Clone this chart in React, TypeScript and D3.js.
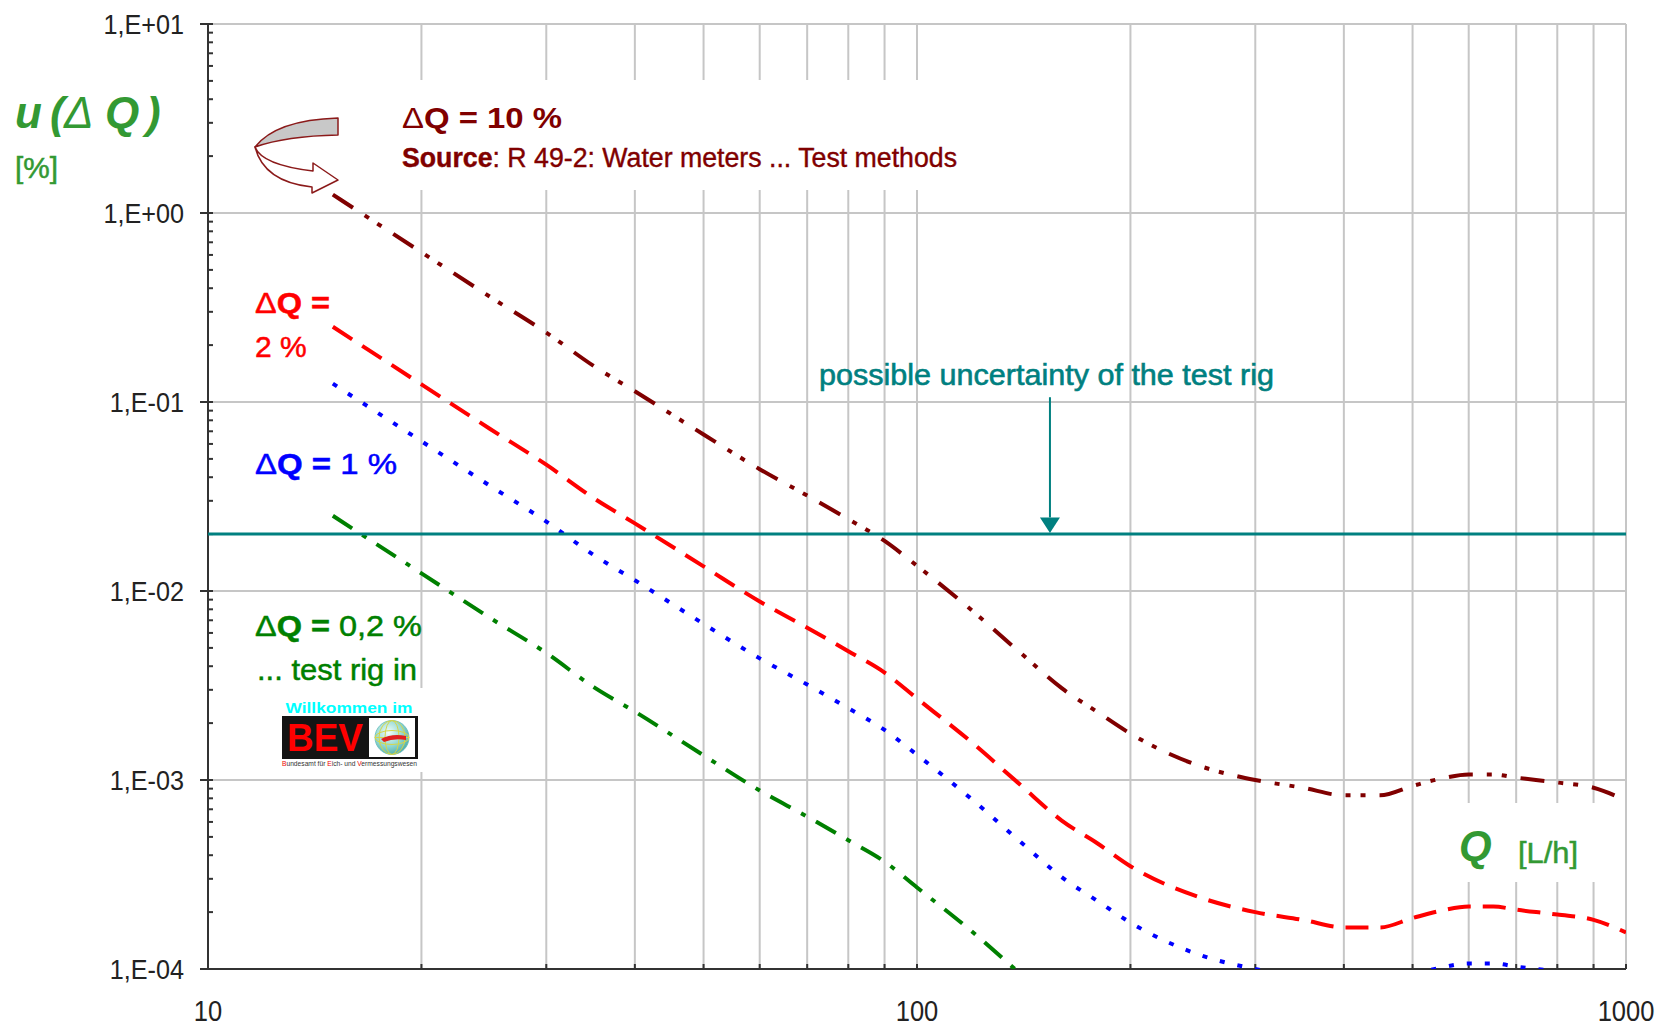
import React, { useEffect, useRef } from "react";
import { select, scaleLog, line, curveMonotoneX } from "d3";

// flow rate Q [L/h] and u(ΔQ) [%]
const flowRates = [
  15, 20, 25, 30, 35, 40, 50, 60, 70, 80, 90, 100, 120, 140, 160, 180, 200,
  250, 300, 350, 400, 450, 500, 550, 600, 650, 700, 800, 900, 1000,
];
const u10 = [
  1.25, 0.62, 0.36, 0.233, 0.155, 0.114, 0.0673, 0.0441, 0.032, 0.024, 0.0184,
  0.0136, 0.0078, 0.0047, 0.00306, 0.00228, 0.00176, 0.00119, 0.001, 0.00091,
  0.00083, 0.00083, 0.00093, 0.00102, 0.00107, 0.00107, 0.00103, 0.00097,
  0.00091, 0.00078,
];
const u2 = [
  0.25, 0.124, 0.072, 0.0466, 0.031, 0.0228, 0.0135, 0.0088, 0.0064, 0.0048,
  0.0037, 0.0027, 0.00156, 0.00094, 0.00061, 0.00046, 0.00035, 0.00024, 0.0002,
  0.000182, 0.000166, 0.000166, 0.000186, 0.000204, 0.000214, 0.000214,
  0.000206, 0.000194, 0.000182, 0.000156,
];
const u1 = [
  0.125, 0.062, 0.036, 0.0233, 0.0155, 0.0114, 0.0067, 0.0044, 0.0032, 0.0024,
  0.00184, 0.00136, 0.00078, 0.00047, 0.000306, 0.000228, 0.000176, 0.000119,
  0.0001, 0.000091, 0.000083, 0.000083, 0.000093, 0.000102, 0.000107, 0.000107,
  0.000103, 0.000097, 0.000091, 0.000078,
];
const u02 = [
  0.025, 0.0124, 0.0072, 0.0047, 0.0031, 0.0023, 0.00135, 0.00088, 0.00064,
  0.00048, 0.00037, 0.00027, 0.000156, 0.000094, 0.000061,
];
const xTickLabels = [10, 100, 1000];
const rigLimit = 0.02;
const arrowQ = 154;
const arrowTop = 0.106;
const arrowHeadTop = 0.0245;

const W = 1668;
const H = 1033;
const margin = { top: 24, right: 42, bottom: 64, left: 208 };
const font = '"Liberation Sans", Arial, sans-serif';
const axisGreen = "#339933";

const xScale = scaleLog()
  .domain([10, 1000])
  .range([margin.left, W - margin.right]);
const yScale = scaleLog()
  .domain([1e-4, 10])
  .range([H - margin.bottom, margin.top]);

const series = [
  { key: "u10", values: u10, color: "#800000", dash: "24 14 5 10 5 14" },
  { key: "u2", values: u2, color: "#ff0000", dash: "23 12" },
  { key: "u1", values: u1, color: "#0000ff", dash: "5 13" },
  { key: "u02", values: u02, color: "#008000", dash: "23 12 5 12" },
];

const isDecade = (v) =>
  Math.abs(Math.log10(v) - Math.round(Math.log10(v))) < 1e-6;

const expLabel = (v) => {
  const e = Math.round(Math.log10(v));
  return `1,E${e >= 0 ? "+" : "-"}${String(Math.abs(e)).padStart(2, "0")}`;
};

export default function App() {
  const gridRef = useRef(null);
  const plotRef = useRef(null);

  const left = margin.left;
  const right = W - margin.right;
  const top = margin.top;
  const bottom = H - margin.bottom;

  useEffect(() => {
    const grid = select(gridRef.current);
    grid.selectAll("*").remove();

    // vertical grid at every log tick, horizontal only at decades
    grid
      .selectAll("line.gx")
      .data(xScale.ticks().filter((d) => d > 10))
      .enter()
      .append("line")
      .attr("x1", (d) => xScale(d))
      .attr("x2", (d) => xScale(d))
      .attr("y1", top)
      .attr("y2", bottom)
      .attr("stroke", "#c6c6c6")
      .attr("stroke-width", 2);

    grid
      .selectAll("line.gy")
      .data(yScale.ticks().filter((d) => isDecade(d) && d > 1e-4))
      .enter()
      .append("line")
      .attr("x1", left)
      .attr("x2", right)
      .attr("y1", (d) => yScale(d))
      .attr("y2", (d) => yScale(d))
      .attr("stroke", "#c6c6c6")
      .attr("stroke-width", 2);

    const plot = select(plotRef.current);
    plot.selectAll("*").remove();

    // axes
    plot
      .append("line")
      .attr("x1", left)
      .attr("x2", left)
      .attr("y1", top)
      .attr("y2", bottom)
      .attr("stroke", "#333")
      .attr("stroke-width", 2);
    plot
      .append("line")
      .attr("x1", left - 8)
      .attr("x2", right)
      .attr("y1", bottom)
      .attr("y2", bottom)
      .attr("stroke", "#333")
      .attr("stroke-width", 2);

    plot
      .selectAll("line.ty")
      .data(yScale.ticks())
      .enter()
      .append("line")
      .attr("x1", (d) => (isDecade(d) ? left - 8 : left))
      .attr("x2", left + 5)
      .attr("y1", (d) => yScale(d))
      .attr("y2", (d) => yScale(d))
      .attr("stroke", "#333")
      .attr("stroke-width", 2);

    plot
      .selectAll("line.tx")
      .data(xScale.ticks().filter((d) => d > 10))
      .enter()
      .append("line")
      .attr("x1", (d) => xScale(d))
      .attr("x2", (d) => xScale(d))
      .attr("y1", bottom)
      .attr("y2", bottom - 5)
      .attr("stroke", "#333")
      .attr("stroke-width", 2);

    plot
      .selectAll("text.ylab")
      .data(yScale.ticks().filter(isDecade))
      .enter()
      .append("text")
      .attr("transform", (d) => `translate(184,${yScale(d) + 10}) scale(0.9,1)`)
      .attr("text-anchor", "end")
      .attr("font-family", font)
      .attr("font-size", 28)
      .attr("fill", "#222")
      .text(expLabel);

    plot
      .selectAll("text.xlab")
      .data(xTickLabels)
      .enter()
      .append("text")
      .attr("transform", (d) => `translate(${xScale(d)},1021) scale(0.85,1)`)
      .attr("text-anchor", "middle")
      .attr("font-family", font)
      .attr("font-size", 30)
      .attr("fill", "#222")
      .text((d) => d);

    // curves
    const curve = line()
      .x((d) => xScale(d[0]))
      .y((d) => yScale(d[1]))
      .curve(curveMonotoneX);

    const lines = plot.append("g").attr("clip-path", "url(#plotClip)");
    series.forEach((s) => {
      const pts = s.values.map((v, i) => [flowRates[i], v]);
      lines
        .append("path")
        .attr("d", curve(pts))
        .attr("fill", "none")
        .attr("stroke", s.color)
        .attr("stroke-width", 4)
        .attr("stroke-dasharray", s.dash);
    });

    // test rig uncertainty
    plot
      .append("line")
      .attr("x1", left)
      .attr("x2", right)
      .attr("y1", yScale(rigLimit))
      .attr("y2", yScale(rigLimit))
      .attr("stroke", "#008080")
      .attr("stroke-width", 3);

    const ax = xScale(arrowQ);
    plot
      .append("line")
      .attr("x1", ax)
      .attr("x2", ax)
      .attr("y1", yScale(arrowTop))
      .attr("y2", yScale(arrowHeadTop))
      .attr("stroke", "#008080")
      .attr("stroke-width", 2);
    plot
      .append("path")
      .attr(
        "d",
        `M${ax - 10},${yScale(arrowHeadTop)} L${ax + 10},${yScale(
          arrowHeadTop
        )} L${ax},${yScale(rigLimit) - 1} Z`
      )
      .attr("fill", "#008080");
  }, []);

  return (
    <svg
      width={W}
      height={H}
      style={{
        position: "absolute",
        left: 0,
        top: 0,
        background: "white",
        fontFamily: font,
      }}
    >
      <defs>
        <clipPath id="plotClip">
          <rect x={left} y={top} width={right - left} height={bottom - top} />
        </clipPath>
        <radialGradient id="globe" cx="40%" cy="35%" r="70%">
          <stop offset="0%" stopColor="#f2fffb" />
          <stop offset="60%" stopColor="#8fd6cf" />
          <stop offset="100%" stopColor="#4aa9a6" />
        </radialGradient>
      </defs>
      <rect x={0} y={0} width={W} height={H} fill="white" />
      <g ref={gridRef} />

      {/* white panels behind the annotations */}
      <rect x={395} y={80} width={570} height={110} fill="white" />
      <rect x={1440} y={803} width={160} height={79} fill="white" />
      <rect x={262} y={688} width={166} height={84} fill="white" />

      <g ref={plotRef} />

      {/* y axis title */}
      <g fill={axisGreen}>
        <text x={15} y={128} fontSize={44} fontWeight="bold" fontStyle="italic">
          u
        </text>
        <text x={50} y={128} fontSize={44} fontWeight="bold" fontStyle="italic">
          (
        </text>
        <text x={64} y={128} fontSize={44} fontStyle="italic">
          Δ
        </text>
        <text x={105} y={128} fontSize={44} fontWeight="bold" fontStyle="italic">
          Q
        </text>
        <text x={146} y={128} fontSize={44} fontWeight="bold" fontStyle="italic">
          )
        </text>
        <text
          x={15}
          y={178}
          fontSize={30}
          textLength={43}
          lengthAdjust="spacingAndGlyphs"
          stroke={axisGreen}
          strokeWidth={0.5}
        >
          [%]
        </text>
      </g>

      {/* x axis title */}
      <g fill={axisGreen}>
        <text x={1459} y={860} fontSize={42} fontWeight="bold" fontStyle="italic">
          Q
        </text>
        <text
          x={1518}
          y={863}
          fontSize={30}
          textLength={60}
          lengthAdjust="spacingAndGlyphs"
          stroke={axisGreen}
          strokeWidth={0.5}
        >
          [L/h]
        </text>
      </g>

      {/* curved pointer */}
      <g stroke="#8b1a1a" strokeWidth={1.5} strokeLinejoin="round">
        <path d="M338,118 Q276,120 255,147 Q286,136 338,135 Z" fill="#c8c8c8" />
        <path
          d="M255,147 Q262,165 313,171 L313,163 L338,180 L312,193 L312,187 Q264,182 255,147 Z"
          fill="white"
        />
      </g>

      {/* 10 % label */}
      <g fill="#800000">
        <text x={402} y={128} fontSize={30} textLength={160} lengthAdjust="spacingAndGlyphs">
          <tspan>Δ</tspan>
          <tspan fontWeight="bold">Q = 10 %</tspan>
        </text>
        <text
          x={402}
          y={167}
          fontSize={27}
          textLength={555}
          lengthAdjust="spacingAndGlyphs"
          stroke="#800000"
          strokeWidth={0.4}
        >
          <tspan fontWeight="bold">Source</tspan>: R 49-2: Water meters ... Test methods
        </text>
      </g>

      <g fill="#ff0000" fontSize={30} stroke="#ff0000" strokeWidth={0.5}>
        <text x={255} y={313} textLength={75} lengthAdjust="spacingAndGlyphs">
          <tspan>Δ</tspan>
          <tspan fontWeight="bold">Q =</tspan>
        </text>
        <text x={255} y={357}>2 %</text>
      </g>

      <g fill="#0000ff" fontSize={30} stroke="#0000ff" strokeWidth={0.5}>
        <text x={255} y={474} textLength={142} lengthAdjust="spacingAndGlyphs">
          <tspan>Δ</tspan>
          <tspan fontWeight="bold">Q =</tspan>
          <tspan> 1 %</tspan>
        </text>
      </g>

      <g fill="#008000" fontSize={30} stroke="#008000" strokeWidth={0.5}>
        <text x={255} y={636} textLength={167} lengthAdjust="spacingAndGlyphs">
          <tspan>Δ</tspan>
          <tspan fontWeight="bold">Q =</tspan>
          <tspan> 0,2 %</tspan>
        </text>
        <text x={257} y={680} textLength={160} lengthAdjust="spacingAndGlyphs">
          ... test rig in
        </text>
      </g>

      {/* BEV logo */}
      <g>
        <text
          x={349}
          y={713}
          textAnchor="middle"
          fontSize={15}
          fontWeight="bold"
          fill="#00ffff"
          textLength={127}
          lengthAdjust="spacingAndGlyphs"
        >
          Willkommen im
        </text>
        <rect x={282} y={716} width={136} height={43} fill="#141414" />
        <text
          x={287}
          y={751}
          fontSize={38}
          fontWeight="bold"
          fill="#ff0000"
          textLength={76}
          lengthAdjust="spacingAndGlyphs"
        >
          BEV
        </text>
        <rect x={369} y={718} width={46} height={39} fill="white" />
        <circle cx={392} cy={737.5} r={17} fill="url(#globe)" stroke="#6bb" strokeWidth={0.8} />
        <g fill="none" stroke="#d6d64a" strokeWidth={1}>
          <ellipse cx={392} cy={737.5} rx={7} ry={17} />
          <ellipse cx={392} cy={737.5} rx={13} ry={17} />
          <line x1={375} y1={737.5} x2={409} y2={737.5} />
          <ellipse cx={392} cy={737.5} rx={17} ry={7} />
        </g>
        <path d="M381,739 Q392,733 406,736 L406,740 Q394,738 384,742 Z" fill="#e02020" />
        <text
          x={282}
          y={766}
          fontSize={6.5}
          fill="#333"
          textLength={135}
          lengthAdjust="spacingAndGlyphs"
        >
          <tspan fill="#e00">B</tspan>undesamt für <tspan fill="#e00">E</tspan>ich- und{" "}
          <tspan fill="#e00">V</tspan>ermessungswesen
        </text>
      </g>

      {/* test rig annotation */}
      <text
        x={819}
        y={385}
        fontSize={30}
        fill="#008080"
        stroke="#008080"
        strokeWidth={0.6}
        textLength={455}
        lengthAdjust="spacingAndGlyphs"
      >
        possible uncertainty of the test rig
      </text>
    </svg>
  );
}
